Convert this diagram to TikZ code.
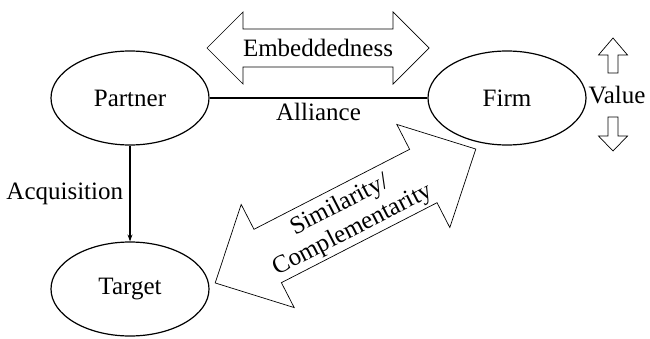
\documentclass[tikz,border=0pt]{standalone}
\usepackage{fontspec}
\setmainfont{Liberation Serif}
\usetikzlibrary{arrows.meta,positioning,shapes.geometric}
\tikzset{ent/.style={draw, line width=1.2pt, ellipse, minimum width=158pt, minimum height=94pt, inner sep=0pt},
  fat/.style={draw, fill=white, line width=0.7pt, line join=miter},
  lbl/.style={font=\fontsize{25}{28}\selectfont, align=center}}

\begin{document}
\begin{tikzpicture}[x=1pt, y=1pt, font=\fontsize{25}{28}\selectfont]
  \useasboundingbox (0,0) rectangle (650,338);
  \node[ent] (partner) at (130,240) {Partner};
  \node[ent] (firm) at (507,240) {Firm};
  \node[ent] (target) at (130,49) {Target};
  \draw[line width=1.1pt] (partner.east) -- node[below=1pt]{Alliance} (firm.west);
  \draw[line width=1.1pt, -{Stealth[length=7pt, width=5pt]}] (partner.south) -- node[left=3pt]{Acquisition} (target.north);
  % embeddedness
  \begin{scope}[shift={(318,290)}]
    \draw[fat] (-111,0) -- (-75,36) -- (-75,19) -- (75,19) -- (75,36) -- (111,0)
      -- (75,-36) -- (75,-19) -- (-75,-19) -- (-75,-36) -- cycle;
    \node[lbl] (emb) at (0,0) {Embeddedness};
  \end{scope}
  % similarity / complementarity
  \begin{scope}[shift={(345.5,122)}, rotate=27.2]
    \draw[fat] (-146.5,0) -- (-87.5,58) -- (-87.5,30) -- (87.5,30) -- (87.5,58) -- (146.5,0)
      -- (87.5,-58) -- (87.5,-30) -- (-87.5,-30) -- (-87.5,-58) -- cycle;
    \node[lbl, rotate=27.2] (sim) at (0,-2) {Similarity/\\Complementarity};
  \end{scope}
  % value
  \draw[fat] (613,300) -- (627.5,283) -- (618,283) -- (618,265) -- (608,265) -- (608,283) -- (598.5,283) -- cycle;
  \draw[fat] (613,187) -- (627.5,202) -- (618,202) -- (618,221) -- (608,221) -- (608,202) -- (598.5,202) -- cycle;
  \node (value) at (617,243) {Value};
\end{tikzpicture}
\end{document}
